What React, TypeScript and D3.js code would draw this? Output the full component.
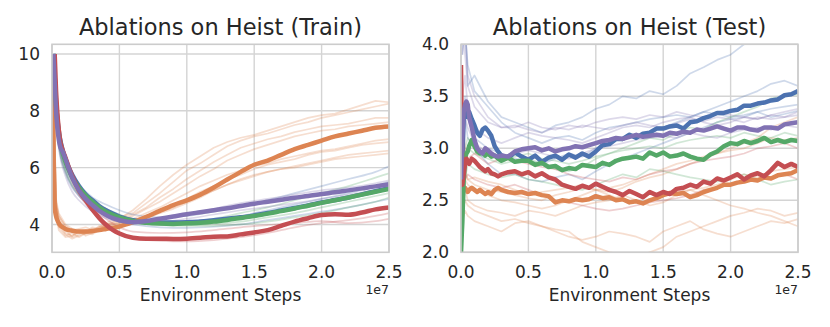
import React from 'react';
import * as d3 from 'd3';

// ---------- data (x in units of 1e7 environment steps) ----------
const xTicks = [0, 0.5, 1.0, 1.5, 2.0, 2.5];
const trainYTicks = [4, 6, 8, 10];
const testYTicks = [2.0, 2.5, 3.0, 3.5, 4.0];

const trainSteps = [0.005, 0.01, 0.02, 0.03, 0.04, 0.05, 0.06, 0.08, 0.1, 0.125, 0.15, 0.2, 0.25, 0.3, 0.35, 0.4, 0.45, 0.5, 0.6, 0.7, 0.8, 0.9, 1.0, 1.1, 1.2, 1.3, 1.4, 1.5, 1.6, 1.7, 1.8, 1.9, 2.0, 2.1, 2.2, 2.3, 2.4, 2.5];
const trainBlue = [null, 10, 9.2, 8.3, 7.7, 7.3, 7.0, 6.6, 6.3, 6.0, 5.75, 5.35, 5.05, 4.85, 4.65, 4.5, 4.38, 4.28, 4.15, 4.1, 4.07, 4.07, 4.08, 4.1, 4.15, 4.2, 4.25, 4.32, 4.4, 4.49, 4.58, 4.67, 4.77, 4.86, 4.95, 5.06, 5.17, 5.28];
const trainOrange = [10, 6.5, 4.6, 4.3, 4.15, 4.05, 3.98, 3.9, 3.84, 3.8, 3.78, 3.75, 3.75, 3.77, 3.8, 3.84, 3.88, 3.93, 4.08, 4.27, 4.48, 4.68, 4.85, 5.05, 5.3, 5.58, 5.85, 6.1, 6.25, 6.45, 6.65, 6.8, 6.95, 7.1, 7.2, 7.3, 7.4, 7.45];
const trainGreen = [null, 10, 9.1, 8.2, 7.6, 7.2, 6.9, 6.5, 6.2, 5.9, 5.65, 5.3, 5.02, 4.8, 4.6, 4.45, 4.34, 4.25, 4.12, 4.06, 4.03, 4.02, 4.04, 4.06, 4.1, 4.16, 4.23, 4.3, 4.38, 4.47, 4.56, 4.66, 4.76, 4.85, 4.95, 5.05, 5.15, 5.25];
const trainRed = [null, null, 10, 8.7, 7.9, 7.35, 6.95, 6.6, 6.35, 6.0, 5.7, 5.2, 4.85, 4.52, 4.23, 3.99, 3.81, 3.68, 3.53, 3.5, 3.5, 3.49, 3.5, 3.53, 3.57, 3.58, 3.65, 3.72, 3.8, 3.95, 4.1, 4.22, 4.33, 4.36, 4.34, 4.42, 4.53, 4.6];
const trainPurple = [null, 10, 9.0, 8.0, 7.4, 7.0, 6.75, 6.55, 6.3, 5.95, 5.65, 5.2, 4.9, 4.68, 4.48, 4.33, 4.22, 4.15, 4.08, 4.12, 4.2, 4.28, 4.36, 4.43, 4.5, 4.57, 4.65, 4.73, 4.8, 4.87, 4.94, 5.0, 5.07, 5.13, 5.2, 5.27, 5.34, 5.42];

// individual runs, train
const trainSeedStepsNoisy = [0.01, 0.03, 0.05, 0.1, 0.15, 0.2, 0.25, 0.3, 0.35, 0.4, 0.5, 0.6, 0.7, 0.8, 0.9, 1.0, 1.1, 1.2, 1.3, 1.4, 1.5, 1.6, 1.7, 1.8, 1.9, 2.0, 2.1, 2.2, 2.3, 2.4, 2.5];
const trainOrangeRun1 = [9.0, 4.6, 4.1, 3.7, 3.6, 3.75, 3.65, 3.8, 3.85, 3.95, 4.2, 4.5, 4.9, 5.35, 5.75, 6.1, 6.4, 6.7, 6.9, 7.05, 7.15, 7.3, 7.45, 7.6, 7.75, 7.85, 7.9, 8.05, 8.2, 8.35, 8.3];
const trainOrangeRun2 = [9.2, 4.8, 4.2, 3.8, 3.55, 3.65, 3.8, 3.7, 3.9, 4.05, 4.25, 4.4, 4.75, 5.1, 5.5, 5.9, 6.15, 6.45, 6.75, 6.95, 7.1, 7.2, 7.35, 7.5, 7.6, 7.75, 7.85, 7.95, 8.05, 8.15, 8.25];
const trainOrangeRun3 = [9.0, 4.5, 3.9, 3.6, 3.7, 3.55, 3.7, 3.85, 3.8, 4.0, 4.15, 4.35, 4.6, 4.95, 5.25, 5.6, 5.9, 6.2, 6.45, 6.7, 6.85, 7.0, 7.1, 7.25, 7.35, 7.45, 7.5, 7.55, 7.65, 7.75, 7.75];
const trainOrangeRun4 = [9.1, 4.7, 4.3, 3.9, 3.75, 3.8, 3.7, 3.75, 3.95, 3.9, 4.1, 4.3, 4.55, 4.8, 5.1, 5.4, 5.7, 5.95, 6.25, 6.45, 6.65, 6.8, 6.95, 7.1, 7.2, 7.3, 7.35, 7.45, 7.5, 7.55, 7.6];
const trainOrangeRun5 = [9.3, 4.9, 4.4, 4.0, 3.85, 3.7, 3.75, 3.9, 3.85, 3.95, 4.05, 4.2, 4.4, 4.6, 4.85, 5.1, 5.35, 5.55, 5.75, 5.9, 6.05, 6.15, 6.3, 6.4, 6.5, 6.6, 6.65, 6.75, 6.85, 6.95, 7.0];
const trainOrangeRun6 = [9.0, 4.4, 3.8, 3.55, 3.6, 3.75, 3.6, 3.7, 3.85, 3.9, 4.0, 4.1, 4.25, 4.45, 4.65, 4.9, 5.15, 5.35, 5.6, 5.75, 5.95, 6.1, 6.2, 6.3, 6.45, 6.55, 6.6, 6.7, 6.8, 6.85, 6.9];
const trainOrangeRun7 = [9.1, 4.6, 4.0, 3.65, 3.5, 3.6, 3.7, 3.65, 3.8, 3.85, 3.95, 4.05, 4.2, 4.4, 4.55, 4.75, 4.95, 5.2, 5.4, 5.6, 5.75, 5.85, 5.95, 6.05, 6.15, 6.25, 6.35, 6.45, 6.5, 6.55, 6.6];
const trainOrangeRun8 = [9.2, 4.8, 4.3, 3.95, 3.8, 3.85, 3.9, 3.8, 3.9, 4.0, 4.05, 4.15, 4.3, 4.45, 4.6, 4.8, 5.0, 5.2, 5.4, 5.55, 5.7, 5.85, 5.95, 6.0, 6.1, 6.2, 6.3, 6.35, 6.4, 6.45, 6.5];

const trainSeedStepsSmooth = [0.01, 0.03, 0.05, 0.1, 0.15, 0.2, 0.3, 0.4, 0.5, 0.6, 0.8, 1.0, 1.2, 1.4, 1.6, 1.8, 2.0, 2.2, 2.4, 2.5];
const trainBlueRun1 = [10, 8.2, 7.2, 6.2, 5.7, 5.4, 4.95, 4.7, 4.5, 4.35, 4.25, 4.3, 4.45, 4.65, 4.85, 5.1, 5.35, 5.6, 5.85, 6.05];
const trainBlueRun2 = [10, 8.0, 7.0, 6.0, 5.5, 5.2, 4.75, 4.45, 4.25, 4.15, 4.05, 4.05, 4.15, 4.3, 4.5, 4.7, 4.9, 5.1, 5.35, 5.5];
const trainBlueRun3 = [10, 7.8, 6.8, 5.8, 5.3, 5.0, 4.6, 4.3, 4.1, 4.0, 3.9, 3.88, 3.92, 4.0, 4.15, 4.3, 4.45, 4.6, 4.8, 4.9];
const trainGreenRun1 = [10, 8.1, 7.1, 6.1, 5.6, 5.3, 4.85, 4.55, 4.35, 4.2, 4.1, 4.1, 4.2, 4.4, 4.6, 4.85, 5.1, 5.35, 5.65, 5.8];
const trainGreenRun2 = [10, 7.9, 6.9, 5.9, 5.4, 5.1, 4.7, 4.4, 4.2, 4.1, 4.0, 3.98, 4.02, 4.1, 4.25, 4.4, 4.6, 4.8, 5.0, 5.1];
const trainGreenRun3 = [10, 7.8, 6.8, 5.85, 5.35, 5.05, 4.65, 4.38, 4.18, 4.08, 3.98, 3.95, 3.95, 4.0, 4.1, 4.25, 4.4, 4.6, 4.8, 4.95];
const trainRedRun1 = [null, 9.0, 7.6, 6.2, 5.5, 5.05, 4.45, 3.95, 3.65, 3.5, 3.42, 3.4, 3.45, 3.55, 3.7, 3.9, 4.05, 4.15, 4.3, 4.4];
const trainRedRun2 = [null, 9.2, 7.8, 6.4, 5.7, 5.25, 4.6, 4.2, 3.9, 3.75, 3.7, 3.72, 3.8, 3.9, 3.98, 4.05, 4.12, 4.05, 4.12, 4.2];
const trainPurpleRun1 = [10, 7.9, 6.9, 5.9, 5.35, 5.0, 4.6, 4.35, 4.2, 4.15, 4.2, 4.35, 4.55, 4.75, 4.9, 5.05, 5.2, 5.3, 5.45, 5.55];
const trainPurpleRun2 = [10, 7.7, 6.7, 5.7, 5.15, 4.85, 4.45, 4.22, 4.1, 4.05, 4.08, 4.2, 4.35, 4.5, 4.62, 4.75, 4.9, 5.05, 5.2, 5.28];

// test means
const testSteps = [0, 0.01, 0.02, 0.03, 0.04, 0.05, 0.06, 0.08, 0.1, 0.12, 0.14, 0.16, 0.18, 0.2, 0.225, 0.25, 0.275, 0.3, 0.35, 0.4, 0.45, 0.5, 0.55, 0.6, 0.65, 0.7, 0.75, 0.8, 0.85, 0.9, 0.95, 1.0, 1.05, 1.1, 1.15, 1.2, 1.25, 1.3, 1.35, 1.4, 1.45, 1.5, 1.55, 1.6, 1.65, 1.7, 1.75, 1.8, 1.85, 1.9, 1.95, 2.0, 2.05, 2.1, 2.15, 2.2, 2.25, 2.3, 2.35, 2.4, 2.45, 2.5];
const testBlue = [2.6, 2.9, 3.3, 3.42, 3.38, 3.3, 3.35, 3.28, 3.22, 3.15, 3.12, 3.18, 3.2, 3.17, 3.12, 3.02, 2.97, 2.93, 2.91, 2.96, 2.92, 2.89, 2.93, 2.87, 2.91, 2.93, 2.89, 2.94, 2.91, 2.95, 2.92, 2.97, 3.03, 3.04, 3.09, 3.09, 3.13, 3.1, 3.14, 3.15, 3.19, 3.19, 3.21, 3.22, 3.19, 3.25, 3.26, 3.29, 3.31, 3.34, 3.34, 3.36, 3.37, 3.41, 3.41, 3.43, 3.44, 3.46, 3.47, 3.51, 3.52, 3.55];
const testOrange = [2.5, 2.58, 2.6, 2.62, 2.6, 2.58, 2.6, 2.62, 2.6, 2.58, 2.6, 2.58, 2.56, 2.58, 2.56, 2.6, 2.62, 2.6, 2.58, 2.57, 2.58, 2.56, 2.57, 2.55, 2.54, 2.48, 2.5, 2.49, 2.51, 2.5, 2.51, 2.54, 2.52, 2.53, 2.5, 2.51, 2.48, 2.49, 2.47, 2.5, 2.52, 2.55, 2.57, 2.56, 2.57, 2.53, 2.55, 2.58, 2.6, 2.62, 2.65, 2.65, 2.67, 2.68, 2.7, 2.69, 2.72, 2.71, 2.74, 2.75, 2.76, 2.79];
const testGreen = [2.0, 2.3, 2.7, 2.9, 2.95, 2.97, 3.02, 3.08, 3.02, 2.97, 2.95, 2.96, 2.93, 2.95, 2.92, 2.93, 2.9, 2.88, 2.91, 2.87, 2.88, 2.88, 2.84, 2.86, 2.82, 2.83, 2.79, 2.81, 2.8, 2.84, 2.83, 2.82, 2.86, 2.84, 2.88, 2.9, 2.91, 2.92, 2.9, 2.96, 2.93, 2.96, 2.92, 2.93, 2.95, 2.92, 2.9, 2.89, 2.94, 2.97, 3.02, 3.05, 3.04, 3.07, 3.05, 3.07, 3.1, 3.06, 3.08, 3.06, 3.08, 3.07];
const testRed = [3.8, 2.65, 2.75, 2.85, 2.9, 2.88, 2.85, 2.9, 2.88, 2.85, 2.82, 2.8, 2.78, 2.8, 2.76, 2.75, 2.73, 2.75, 2.77, 2.78, 2.75, 2.77, 2.73, 2.76, 2.72, 2.7, 2.65, 2.63, 2.61, 2.64, 2.62, 2.66, 2.63, 2.6, 2.58, 2.55, 2.59, 2.56, 2.53, 2.58, 2.55, 2.58, 2.56, 2.61, 2.62, 2.65, 2.63, 2.68, 2.66, 2.71, 2.69, 2.72, 2.75, 2.7, 2.74, 2.76, 2.73, 2.79, 2.86, 2.82, 2.85, 2.82];
const testPurple = [2.7, 3.1, 3.35, 3.42, 3.45, 3.42, 3.3, 3.2, 3.08, 3.0, 2.97, 2.95, 3.0, 2.98, 2.95, 2.93, 2.92, 2.93, 2.92, 2.97, 2.99, 3.0, 3.01, 2.98, 3.0, 2.97, 2.99, 3.0, 3.02, 3.01, 3.03, 3.05, 3.07, 3.08, 3.1, 3.09, 3.11, 3.13, 3.11, 3.12, 3.13, 3.12, 3.15, 3.14, 3.16, 3.15, 3.18, 3.17, 3.19, 3.21, 3.19, 3.17, 3.2, 3.2, 3.18, 3.17, 3.2, 3.2, 3.19, 3.23, 3.24, 3.25];

// individual runs, test
const testSeedSteps = [0.01, 0.03, 0.05, 0.1, 0.2, 0.3, 0.4, 0.5, 0.6, 0.7, 0.8, 0.9, 1.0, 1.1, 1.2, 1.3, 1.4, 1.5, 1.6, 1.7, 1.8, 1.9, 2.0, 2.1, 2.2, 2.3, 2.4, 2.5];
const testBlueRun1 = [3.9, 4.3, 3.6, 3.7, 3.45, 3.3, 3.25, 3.2, 3.15, 3.22, 3.25, 3.3, 3.38, 3.42, 3.5, 3.48, 3.55, 3.52, 3.6, 3.72, 3.78, 3.85, 3.9, 4.0, 4.05, 4.15, 4.2, 4.25];
const testBlueRun2 = [3.2, 3.5, 3.3, 3.1, 3.0, 2.95, 2.9, 2.88, 2.85, 2.9, 2.95, 2.92, 3.0, 3.05, 3.1, 3.12, 3.15, 3.2, 3.25, 3.3, 3.35, 3.4, 3.45, 3.5, 3.55, 3.62, 3.65, 3.6];
const testBlueRun3 = [2.5, 3.3, 3.1, 3.0, 2.85, 2.75, 2.75, 2.7, 2.68, 2.72, 2.75, 2.7, 2.78, 2.85, 2.9, 2.95, 3.0, 3.05, 3.1, 3.15, 3.2, 3.25, 3.28, 3.3, 3.35, 3.38, 3.4, 3.42];
const testBlueRun4 = [4.4, 4.1, 3.8, 3.55, 3.4, 3.25, 3.15, 3.1, 3.05, 3.1, 3.12, 3.08, 3.15, 3.2, 3.22, 3.25, 3.28, 3.3, 3.32, 3.3, 3.35, 3.33, 3.3, 3.32, 3.35, 3.3, 3.33, 3.36];
const testPurpleRun1 = [3.9, 4.2, 3.7, 3.5, 3.3, 3.2, 3.2, 3.25, 3.2, 3.18, 3.22, 3.2, 3.25, 3.28, 3.3, 3.28, 3.32, 3.3, 3.35, 3.32, 3.3, 3.35, 3.32, 3.3, 3.28, 3.32, 3.35, 3.38];
const testPurpleRun2 = [3.0, 3.3, 3.2, 3.05, 2.95, 2.9, 2.95, 2.98, 2.95, 2.92, 2.9, 2.95, 3.0, 3.02, 3.05, 3.08, 3.1, 3.12, 3.1, 3.15, 3.12, 3.1, 3.15, 3.18, 3.2, 3.18, 3.22, 3.2];
const testPurpleRun3 = [3.5, 3.7, 3.4, 3.2, 3.1, 3.05, 3.1, 3.15, 3.12, 3.1, 3.08, 3.05, 3.1, 3.15, 3.2, 3.22, 3.2, 3.25, 3.28, 3.3, 3.25, 3.22, 3.25, 3.3, 3.28, 3.32, 3.3, 3.35];
const testPurpleRun4 = [4.2, 3.9, 3.6, 3.4, 3.25, 3.2, 3.22, 3.18, 3.15, 3.2, 3.18, 3.22, 3.2, 3.18, 3.22, 3.25, 3.22, 3.2, 3.24, 3.28, 3.26, 3.3, 3.28, 3.25, 3.3, 3.28, 3.3, 3.32];
const testGreenRun1 = [2.2, 2.9, 3.0, 2.95, 2.9, 2.85, 2.88, 2.9, 2.85, 2.8, 2.78, 2.82, 2.9, 2.95, 3.0, 3.05, 3.1, 3.08, 3.15, 3.2, 3.18, 3.25, 3.3, 3.35, 3.4, 3.48, 3.5, 3.52];
const testGreenRun2 = [2.0, 2.7, 2.85, 2.8, 2.75, 2.72, 2.75, 2.7, 2.68, 2.65, 2.62, 2.6, 2.65, 2.7, 2.75, 2.72, 2.8, 2.78, 2.75, 2.72, 2.7, 2.68, 2.72, 2.75, 2.7, 2.65, 2.68, 2.7];
const testGreenRun3 = [2.4, 3.0, 3.1, 3.0, 2.95, 2.9, 2.92, 2.95, 2.9, 2.88, 2.85, 2.88, 2.92, 2.95, 2.98, 3.0, 3.02, 3.0, 3.05, 3.08, 3.1, 3.12, 3.1, 3.15, 3.12, 3.1, 3.15, 3.12];
const testRedRun1 = [3.3, 3.0, 2.9, 2.95, 2.85, 2.9, 2.88, 2.85, 2.82, 2.8, 2.75, 2.72, 2.7, 2.68, 2.72, 2.7, 2.75, 2.78, 2.8, 2.85, 2.88, 2.9, 2.92, 2.95, 3.0, 3.02, 3.05, 3.0];
const testRedRun2 = [3.0, 2.7, 2.75, 2.7, 2.65, 2.62, 2.65, 2.6, 2.55, 2.5, 2.48, 2.45, 2.42, 2.4, 2.42, 2.45, 2.48, 2.5, 2.52, 2.55, 2.6, 2.62, 2.65, 2.68, 2.7, 2.72, 2.75, 2.7];
const testOrangeRun1 = [2.4, 2.5, 2.45, 2.4, 2.35, 2.3, 2.32, 2.28, 2.25, 2.22, 2.2, 2.1, 2.05, 2.0, 1.98, 1.95, 2.0, 2.05, 2.15, 2.2, 2.25, 2.3, 2.35, 2.38, 2.42, 2.4, 2.35, 2.38];
const testOrangeRun2 = [2.3, 2.4, 2.35, 2.3, 2.25, 2.2, 2.28, 2.3, 2.25, 2.2, 2.15, 2.12, 2.15, 2.2, 2.18, 2.15, 2.1, 2.2, 2.25, 2.3, 2.22, 2.18, 2.15, 2.2, 2.25, 2.3, 2.28, 2.32];
const testOrangeRun3 = [2.6, 2.7, 2.65, 2.6, 2.55, 2.5, 2.48, 2.45, 2.42, 2.45, 2.5, 2.55, 2.6, 2.62, 2.65, 2.7, 2.75, 2.8, 2.85, 2.88, 2.92, 2.95, 3.0, 3.05, 3.1, 3.2, 3.25, 3.3];
const testOrangeRun4 = [2.7, 2.8, 2.7, 2.65, 2.6, 2.58, 2.55, 2.52, 2.5, 2.55, 2.58, 2.62, 2.6, 2.58, 2.62, 2.68, 2.72, 2.75, 2.8, 2.85, 2.9, 2.95, 2.98, 3.0, 3.05, 3.1, 3.08, 3.1];
const testOrangeRun5 = [2.5, 2.6, 2.5, 2.45, 2.4, 2.38, 2.35, 2.4, 2.38, 2.35, 2.4, 2.45, 2.48, 2.5, 2.55, 2.5, 2.45, 2.48, 2.55, 2.6, 2.62, 2.65, 2.7, 2.75, 2.72, 2.78, 2.8, 2.82];
const testOrangeRun6 = [2.8, 2.75, 2.7, 2.72, 2.68, 2.65, 2.6, 2.55, 2.58, 2.6, 2.62, 2.65, 2.6, 2.55, 2.5, 2.48, 2.5, 2.55, 2.58, 2.6, 2.55, 2.5, 2.45, 2.42, 2.38, 2.35, 2.3, 2.25];

// ---------- styling ----------
const C = { blue: '#4c72b0', orange: '#dd8452', green: '#55a868', red: '#c44e52', purple: '#8172b3' };
const FONT = '"DejaVu Sans", sans-serif';
const TEXT = '#262626';

type Series = { steps: number[]; values: (number | null)[]; color: string };

const trainRuns: Series[] = [
  ...[trainOrangeRun1, trainOrangeRun2, trainOrangeRun3, trainOrangeRun4, trainOrangeRun5, trainOrangeRun6, trainOrangeRun7, trainOrangeRun8].map(v => ({ steps: trainSeedStepsNoisy, values: v, color: C.orange })),
  ...[trainBlueRun1, trainBlueRun2, trainBlueRun3].map(v => ({ steps: trainSeedStepsSmooth, values: v, color: C.blue })),
  ...[trainGreenRun1, trainGreenRun2, trainGreenRun3].map(v => ({ steps: trainSeedStepsSmooth, values: v, color: C.green })),
  ...[trainRedRun1, trainRedRun2].map(v => ({ steps: trainSeedStepsSmooth, values: v, color: C.red })),
  ...[trainPurpleRun1, trainPurpleRun2].map(v => ({ steps: trainSeedStepsSmooth, values: v, color: C.purple })),
];
const trainMeans: Series[] = [
  { steps: trainSteps, values: trainBlue, color: C.blue },
  { steps: trainSteps, values: trainOrange, color: C.orange },
  { steps: trainSteps, values: trainGreen, color: C.green },
  { steps: trainSteps, values: trainRed, color: C.red },
  { steps: trainSteps, values: trainPurple, color: C.purple },
];
const testRuns: Series[] = [
  ...[testBlueRun1, testBlueRun2, testBlueRun3, testBlueRun4].map(v => ({ steps: testSeedSteps, values: v, color: C.blue })),
  ...[testOrangeRun1, testOrangeRun2, testOrangeRun3, testOrangeRun4, testOrangeRun5, testOrangeRun6].map(v => ({ steps: testSeedSteps, values: v, color: C.orange })),
  ...[testGreenRun1, testGreenRun2, testGreenRun3].map(v => ({ steps: testSeedSteps, values: v, color: C.green })),
  ...[testRedRun1, testRedRun2].map(v => ({ steps: testSeedSteps, values: v, color: C.red })),
  ...[testPurpleRun1, testPurpleRun2, testPurpleRun3, testPurpleRun4].map(v => ({ steps: testSeedSteps, values: v, color: C.purple })),
];
const testMeans: Series[] = [
  { steps: testSteps, values: testBlue, color: C.blue },
  { steps: testSteps, values: testOrange, color: C.orange },
  { steps: testSteps, values: testGreen, color: C.green },
  { steps: testSteps, values: testRed, color: C.red },
  { steps: testSteps, values: testPurple, color: C.purple },
];

type PanelProps = {
  id: string; x0: number; x1: number; y0: number; y1: number;
  yDomain: [number, number]; yTicks: number[]; yFmt: (v: number) => string;
  title: string; runs: Series[]; means: Series[]; smooth: boolean;
};

function Panel({ id, x0, x1, y0, y1, yDomain, yTicks, yFmt, title, runs, means, smooth }: PanelProps) {
  const xs = d3.scaleLinear().domain([0, 2.5]).range([x0, x1]);
  const ys = d3.scaleLinear().domain(yDomain).range([y1, y0]);
  const path = (s: Series, curve: d3.CurveFactory) => {
    const pts = s.steps.map((st, i) => [st, s.values[i]] as [number, number | null]);
    return d3.line<[number, number | null]>()
      .defined(d => d[1] != null)
      .x(d => xs(d[0]))
      .y(d => ys(d[1] as number))
      .curve(curve)(pts) || '';
  };
  const meanCurve = smooth ? d3.curveMonotoneX : d3.curveLinear;
  const cx = (x0 + x1) / 2;
  return (
    <g>
      <defs>
        <clipPath id={id}>
          <rect x={x0} y={y0} width={x1 - x0} height={y1 - y0} />
        </clipPath>
      </defs>
      <rect x={x0} y={y0} width={x1 - x0} height={y1 - y0} fill="#ffffff" />
      {xTicks.map(t => (
        <line key={'gx' + t} x1={xs(t)} x2={xs(t)} y1={y0} y2={y1} stroke="#d4d4d4" strokeWidth={1.4} />
      ))}
      {yTicks.map(t => (
        <line key={'gy' + t} x1={x0} x2={x1} y1={ys(t)} y2={ys(t)} stroke="#d4d4d4" strokeWidth={1.4} />
      ))}
      <g clipPath={`url(#${id})`}>
        {runs.map((s, i) => (
          <path key={'r' + i} d={path(s, smooth && s.color !== C.orange ? d3.curveMonotoneX : d3.curveLinear)}
            fill="none" stroke={s.color} strokeOpacity={0.27} strokeWidth={1.7} strokeLinejoin="round" />
        ))}
        {means.map((s, i) => (
          <path key={'m' + i} d={path(s, meanCurve)} fill="none" stroke={s.color} strokeWidth={4.5}
            strokeLinejoin="round" strokeLinecap="butt" />
        ))}
      </g>
      <rect x={x0} y={y0} width={x1 - x0} height={y1 - y0} fill="none" stroke="#cccccc" strokeWidth={1.6} />
      {xTicks.map(t => (
        <text key={'tx' + t} x={xs(t)} y={y1 + 26} textAnchor="middle" fontSize={17} fill={TEXT} fontFamily={FONT}>
          {t.toFixed(1)}
        </text>
      ))}
      {yTicks.map(t => (
        <text key={'ty' + t} x={x0 - 12} y={ys(t)} dy="0.36em" textAnchor="end" fontSize={17} fill={TEXT} fontFamily={FONT}>
          {yFmt(t)}
        </text>
      ))}
      <text x={x1} y={y1 + 42} textAnchor="end" fontSize={12.5} fill={TEXT} fontFamily={FONT}>1e7</text>
      <text x={cx} y={y1 + 49} textAnchor="middle" fontSize={17} fill={TEXT} fontFamily={FONT}>Environment Steps</text>
      <text x={cx} y={35} textAnchor="middle" fontSize={22.5} fill={TEXT} fontFamily={FONT}>{title}</text>
    </g>
  );
}

export default function App() {
  return (
    <svg width={830} height={327} viewBox="0 0 830 327"
      style={{ position: 'absolute', left: 0, top: 0, display: 'block', background: '#ffffff' }}>
      <rect x={0} y={0} width={830} height={327} fill="#ffffff" />
      <Panel id="clipTrain" x0={52} x1={389} y0={44.3} y1={252.3} yDomain={[3.02, 10.34]}
        yTicks={trainYTicks} yFmt={v => String(v)} title="Ablations on Heist (Train)"
        runs={trainRuns} means={trainMeans} smooth={true} />
      <Panel id="clipTest" x0={461} x1={798} y0={44.3} y1={252.3} yDomain={[2, 4]}
        yTicks={testYTicks} yFmt={v => v.toFixed(1)} title="Ablations on Heist (Test)"
        runs={testRuns} means={testMeans} smooth={false} />
    </svg>
  );
}
